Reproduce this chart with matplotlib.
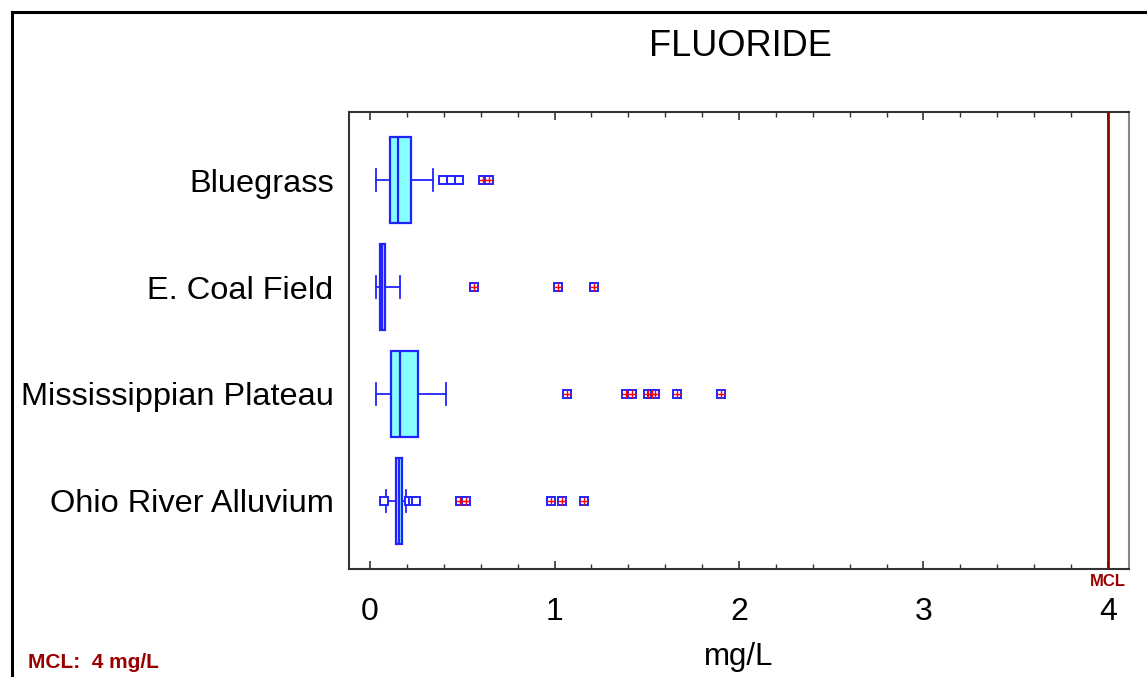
import matplotlib.pyplot as plt
from matplotlib.lines import Line2D

plt.rcParams["font.family"] = ["Liberation Sans", "DejaVu Sans"]

# Regions (top to bottom)
regions = ["Bluegrass", "E. Coal Field", "Mississippian Plateau", "Ohio River Alluvium"]

# Box statistics, mg/L
whisker_low = [0.031, 0.031, 0.031, 0.085]
q1 = [0.108, 0.054, 0.114, 0.139]
median = [0.152, 0.066, 0.163, 0.155]
q3 = [0.224, 0.081, 0.260, 0.175]
whisker_high = [0.343, 0.163, 0.410, 0.193]

# Outliers (open squares) and extreme outliers (squares with red cross)
outliers = [
    [0.394, 0.439, 0.484],
    [],
    [],
    [0.076, 0.211, 0.231, 0.249],
]
extremes = [
    [0.611, 0.645],
    [0.562, 1.017, 1.216],
    [1.066, 1.386, 1.422, 1.509, 1.530, 1.545, 1.662, 1.901],
    [0.490, 0.520, 0.981, 1.042, 1.162],
]

MCL = 4.0
x_ticks = [0, 1, 2, 3, 4]

BLUE = "#2222FF"
CYAN = "#88FFFF"
DARKRED = "#990000"

fig = plt.figure(figsize=(11.47, 6.77), dpi=100)
ax = fig.add_axes([349 / 1147, 1 - 569 / 677, 780 / 1147, 457 / 677])

positions = list(range(1, len(regions) + 1))
stats = [
    dict(whislo=whisker_low[i], q1=q1[i], med=median[i], q3=q3[i],
         whishi=whisker_high[i], fliers=[])
    for i in range(len(regions))
]
ax.bxp(stats, positions=positions, orientation="horizontal", widths=0.81,
       capwidths=0.2, showfliers=False, patch_artist=True,
       boxprops=dict(facecolor=CYAN, edgecolor=BLUE, linewidth=1.6),
       medianprops=dict(color=BLUE, linewidth=1.6),
       whiskerprops=dict(color=BLUE, linewidth=1.3),
       capprops=dict(color=BLUE, linewidth=1.3))

for pos, xs in zip(positions, outliers):
    if xs:
        ax.plot(xs, [pos] * len(xs), linestyle="none", marker="s", markersize=6.2,
                markerfacecolor="white", markeredgecolor=BLUE, markeredgewidth=1.4,
                zorder=4)

for pos, xs in zip(positions, extremes):
    ax.plot(xs, [pos] * len(xs), linestyle="none", marker="s", markersize=6.2,
            markerfacecolor="white", markeredgecolor=BLUE, markeredgewidth=1.4,
            zorder=4)
    ax.plot(xs, [pos] * len(xs), linestyle="none", marker="+", markersize=6.2,
            markeredgecolor="red", markeredgewidth=1.0, zorder=5)

# MCL line
ax.axvline(MCL, color=DARKRED, linewidth=2, zorder=3)
ax.text(MCL, -0.01, "MCL", transform=ax.get_xaxis_transform(), ha="center",
        va="top", fontsize=12, fontweight="bold", color=DARKRED)

ax.set_xlim(-0.114, 4.114)
ax.set_ylim(4.636, 0.364)
ax.set_yticks(positions)
ax.set_yticklabels(regions, fontsize=23.4)
ax.set_xticks(x_ticks)
ax.set_xticklabels([str(t) for t in x_ticks], fontsize=23)
ax.set_xticks([t / 5 for t in range(21)], minor=True)
ax.tick_params(axis="x", which="major", direction="in", top=True, length=5.5,
               width=1.2, color="#333333", pad=20)
ax.tick_params(axis="x", which="minor", direction="in", top=True, length=3.5,
               width=1.0, color="#333333")
ax.tick_params(axis="y", length=0, pad=11)
for side in ["left", "top", "bottom"]:
    ax.spines[side].set_color("#333333")
    ax.spines[side].set_linewidth(1.5)
ax.spines["right"].set_color("#888888")
ax.spines["right"].set_linewidth(1.5)

ax.set_xlabel("mg/L", fontsize=22.5)
ax.xaxis.set_label_coords(0.5, -0.16)

fig.text(740 / 1147, 1 - 47 / 677, "FLUORIDE", ha="center", va="center", fontsize=26)
fig.text(28 / 1147, 1 - 662 / 677, "MCL:  4 mg/L", ha="left", va="center",
         fontsize=15, fontweight="bold", color=DARKRED)

# Outer frame (left and top edges)
fig.add_artist(Line2D([12 / 1147, 12 / 1147], [0, 1 - 12 / 677], color="black",
                      linewidth=2.2, transform=fig.transFigure))
fig.add_artist(Line2D([12 / 1147, 1], [1 - 12 / 677, 1 - 12 / 677], color="black",
                      linewidth=2.2, transform=fig.transFigure))

fig.savefig("out.png", dpi=100)
